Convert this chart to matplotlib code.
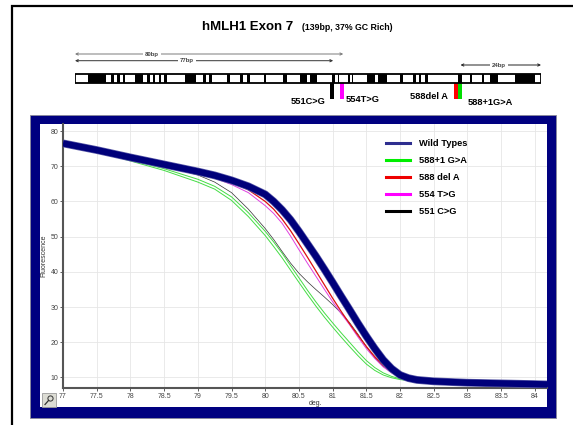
import numpy as np
import matplotlib
matplotlib.use('Agg')
import matplotlib.pyplot as plt
import matplotlib.patheffects as pe
from matplotlib.lines import Line2D
from matplotlib.patches import Rectangle, Circle

plt.rcParams['font.family'] = ['Liberation Sans', 'DejaVu Sans']

# melt curves: temperature (deg.) vs fluorescence
temps = [77, 77.5, 78, 78.5, 79, 79.25, 79.5, 79.75, 80, 80.125, 80.25, 80.375, 80.5,
         80.625, 80.75, 80.875, 81, 81.125, 81.25, 81.375, 81.5, 81.625, 81.75, 81.875,
         82, 82.125, 82.25, 82.5, 83, 83.5, 84, 84.2]
wild_types = [76.5, 74.6, 72.5, 70.5, 68.5, 67.4, 66.0, 64.3, 62.0, 60.0, 57.6, 54.8, 51.5,
              48.0, 44.5, 40.8, 37.0, 33.1, 29.3, 25.4, 21.7, 18.2, 15.0, 12.5,
              10.7, 9.8, 9.3, 8.9, 8.5, 8.3, 8.1, 8.0]
g588_1_a = [76.5, 74.4, 71.8, 69.3, 66.3, 64.3, 61.3, 56.8, 51.5, 48.5, 45.3, 41.8, 38.3,
            34.8, 31.5, 28.4, 25.5, 22.7, 20.0, 17.3, 14.8, 12.8, 11.3, 10.3,
            9.6, 9.3, 9.1, 8.9, 8.7, 8.5, 8.3, 8.2]
g588_1_b = [76.4, 74.2, 71.5, 68.8, 65.5, 63.5, 60.3, 55.7, 50.3, 47.2, 44.0, 40.5, 37.0,
            33.6, 30.3, 27.2, 24.3, 21.5, 18.8, 16.2, 13.8, 12.0, 10.7, 9.9,
            9.4, 9.1, 9.0, 8.9, 8.7, 8.5, 8.3, 8.2]
del588 = [76.5, 74.6, 72.5, 70.4, 68.3, 67.0, 65.5, 63.3, 60.0, 57.8, 55.0, 51.7, 48.0,
          44.2, 40.3, 36.4, 32.5, 28.8, 25.3, 22.0, 18.8, 15.9, 13.5, 11.6,
          10.3, 9.6, 9.3, 8.9, 8.6, 8.5, 8.3, 8.2]
t554g = [76.5, 74.5, 72.4, 70.2, 68.0, 66.6, 64.8, 62.5, 58.8, 56.6, 53.8, 50.2, 46.3,
         42.5, 38.8, 35.1, 31.5, 28.2, 25.0, 21.5, 18.2, 15.4, 13.0, 11.3,
         10.1, 9.5, 9.2, 8.9, 8.7, 8.5, 8.3, 8.2]
c551g = [76.5, 74.5, 72.2, 70.0, 67.5, 65.5, 62.5, 57.8, 52.3, 49.2, 45.8, 42.5, 39.6,
         37.2, 35.0, 32.9, 30.7, 28.3, 25.6, 22.3, 18.7, 15.6, 13.2, 11.4,
         10.2, 9.6, 9.2, 8.9, 8.6, 8.4, 8.2, 8.1]

xticks = [77, 77.5, 78, 78.5, 79, 79.5, 80, 80.5, 81, 81.5, 82, 82.5, 83, 83.5, 84]
yticks = [10, 20, 30, 40, 50, 60, 70, 80]

legend_labels = ['Wild Types', '588+1 G>A', '588 del A', '554 T>G', '551 C>G']
legend_colors = ['#2e2e8f', '#00ee00', '#ee0000', '#ff00ff', '#000000']

# exon 7 schematic, in bp along the 139bp amplicon
amplicon_bp = 139
blocks = [(4.0, 5.2), (10.6, 1.0), (12.6, 0.8), (14.2, 0.8), (17.9, 2.5), (21.6, 0.8),
          (23.2, 0.8), (25.0, 0.6), (26.5, 0.8), (32.8, 3.3), (38.3, 0.8), (40.1, 0.7),
          (45.2, 1.0), (49.2, 0.8), (51.2, 1.0), (56.4, 0.6), (61.9, 1.2), (67.1, 2.0),
          (70.1, 2.0), (76.8, 0.7), (78.3, 0.5), (81.5, 0.5), (82.5, 0.5), (87.0, 2.5),
          (90.5, 2.5), (96.9, 1.0), (100.9, 0.7), (102.6, 0.6), (104.4, 0.8), (114.3, 1.0),
          (117.8, 0.7), (121.3, 0.8), (123.8, 2.3), (131.2, 6.0)]
mut_pos = [76.0, 79.0, 113.0, 114.2]
mut_colors = ['black', '#ff00ff', '#ff0000', '#00dd00']
mut_labels = ['551C>G', '554T>G', '588del A', '588+1G>A']
span_bp = [80, 77, 24]
span_labels = ['80bp', '77bp', '24bp']

fig = plt.figure(figsize=(5.73, 4.25), dpi=100)

# background canvas in pixel coords
bg = fig.add_axes([0, 0, 1, 1], zorder=-1)
bg.set_xlim(0, 573)
bg.set_ylim(425, 0)
bg.axis('off')
bg.plot([12, 12, 590], [440, 6, 6], color='black', lw=1.6, solid_joinstyle='miter', clip_on=False)
bg.add_patch(Rectangle((30, 115), 526, 303, fc='#000080', ec='#8a8a9a', lw=0.6))
bg.add_patch(Rectangle((40, 124), 507, 283, fc='white', ec='none'))
bg.add_patch(Rectangle((42, 393), 14, 14, fc='#dcdcd4', ec='#9a9a9a', lw=0.6))
bg.add_patch(Circle((50.5, 398.5), 2.6, fill=False, ec='#333333', lw=0.7))
bg.plot([48.6, 45.0], [400.4, 404.5], color='#333333', lw=0.9)
bg.text(202, 30, 'hMLH1 Exon 7', fontsize=9.5, fontweight='bold', va='baseline')
bg.text(302, 30, '(139bp, 37% GC Rich)', fontsize=6.3, fontweight='bold', va='baseline')

# gene schematic: x in bp, y in pixels
gx = fig.add_axes([75 / 573, 1 - 108 / 425, 466 / 573, 63 / 425])
gx.set_xlim(0, amplicon_bp)
gx.set_ylim(108, 45)
gx.axis('off')
gx.broken_barh(blocks, (74.3, 9), facecolors='black')
gx.add_patch(Rectangle((0, 74.3), amplicon_bp, 9, fill=False, ec='black', lw=1.3, zorder=4))
gx.bar(mut_pos, 15.7, width=1.2, bottom=83.3, align='edge', color=mut_colors, zorder=3)

label_x = [74.6, 80.6, 111.2, 117.2]
label_y = [101.7, 99.0, 96.7, 102.7]
label_ha = ['right', 'left', 'right', 'left']
for lab, lx, ly, ha in zip(mut_labels, label_x, label_y, label_ha):
    gx.text(lx, ly, lab, fontsize=6.7, fontweight='bold', ha=ha, va='center')

span_start = [0, 0, amplicon_bp - span_bp[2]]
span_y = [54, 60.7, 65]
span_col = ['#7a7a7a', '#333333', '#222222']
span_tx = [23, 33.4, 126.5]
for s, n, y, c, tx, lab in zip(span_start, span_bp, span_y, span_col, span_tx, span_labels):
    gx.annotate('', xy=(s, y), xytext=(s + n, y),
                arrowprops=dict(arrowstyle='<->', lw=0.7, color=c, shrinkA=0, shrinkB=0,
                                mutation_scale=4))
    gx.text(tx, y, lab, fontsize=4.3, fontweight='bold', color='#444444', ha='center', va='center',
            bbox=dict(fc='white', ec='none', pad=1.5))

# melt curve plot
ax = fig.add_axes([63 / 573, 1 - 388 / 425, 484 / 573, 264 / 425])
ax.plot(temps, g588_1_a, color='#44dd44', lw=0.7, zorder=2)
ax.plot(temps, g588_1_b, color='#44dd44', lw=0.7, zorder=2)
ax.plot(temps, c551g, color='#333333', lw=0.5, zorder=2)
ax.plot(temps, t554g, color='#e040e0', lw=0.7, zorder=2)
ax.plot(temps, del588, color='#dd1111', lw=0.9, zorder=2)
ax.plot(temps, wild_types, color='#00007a', lw=4.6, zorder=3, solid_capstyle='butt',
        solid_joinstyle='round',
        path_effects=[pe.Stroke(linewidth=5.6, foreground='#5a5aa8'), pe.Normal()])

ax.set_xlim(77, 84.18)
ax.set_ylim(7, 82)
ax.set_xticks(xticks)
ax.set_xticklabels(['%g' % t for t in xticks])
ax.set_yticks(yticks)
ax.tick_params(labelsize=5, colors='#444444', length=2, width=0.6, pad=1.5)
ax.grid(True, color='#e6e6e6', lw=0.6)
ax.set_axisbelow(True)
for side in ['top', 'right']:
    ax.spines[side].set_visible(False)
for side in ['left', 'bottom']:
    ax.spines[side].set_color('#555555')
    ax.spines[side].set_linewidth(1.5)
ax.set_xlabel('deg.', fontsize=5, color='#333333')
ax.set_ylabel('Fluorescence', fontsize=5, color='#333333')
ax.xaxis.set_label_coords((316 - 63) / 484, -0.045)
ax.yaxis.set_label_coords((47.7 - 63) / 484, 0.5)

handles = [Line2D([], [], color=c, lw=2.2) for c in legend_colors]
ax.legend(handles, legend_labels, loc='upper left', bbox_to_anchor=(0.667, 0.944),
          frameon=False, prop=dict(weight='bold', size=6.7), handlelength=2.6,
          handletextpad=1.0, labelspacing=0.86, borderpad=0, borderaxespad=0)

fig.savefig('out.png', dpi=100)
